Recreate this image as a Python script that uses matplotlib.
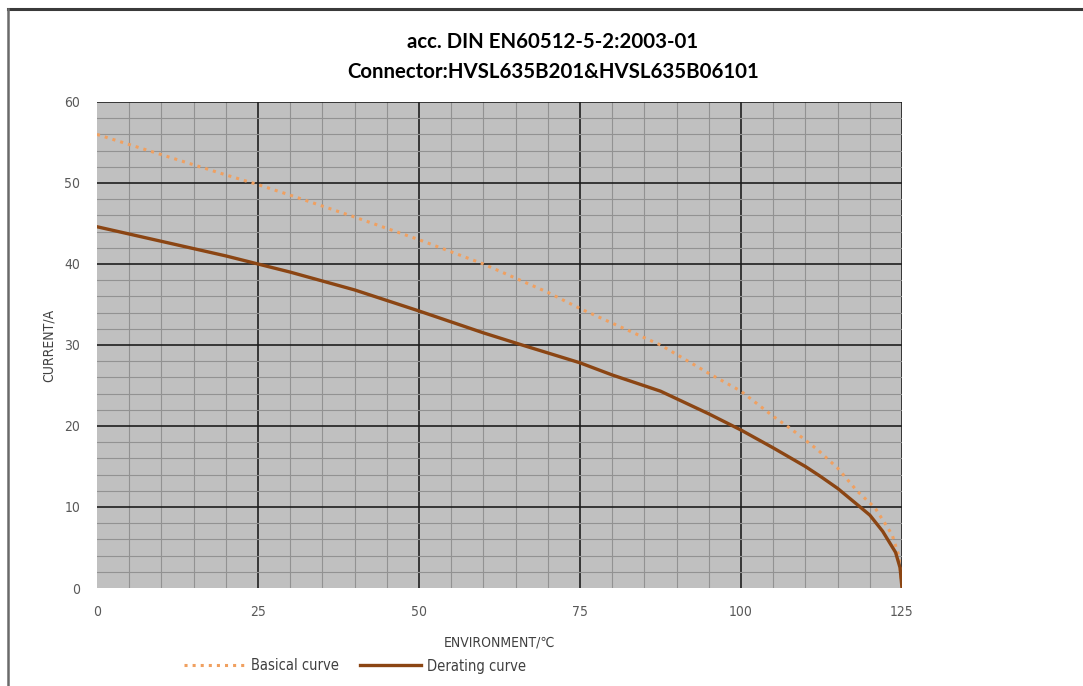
import matplotlib
matplotlib.use('Agg')
import matplotlib.pyplot as plt
from matplotlib.lines import Line2D
from matplotlib.ticker import MultipleLocator

# temperature (C) and current (A)
basic_t = [0, 10, 20, 25, 30, 40, 50, 60, 70, 75, 80, 87.5, 95, 100, 105, 108,
           112, 115, 118, 120.8, 122.5, 123.5, 124.5, 125]
basic_i = [56.0, 53.5, 51.0, 49.8, 48.5, 45.8, 43.0, 40.0, 36.5, 34.5, 32.7, 30.0,
           26.5, 24.3, 21.2, 19.5, 17.0, 14.8, 12.0, 9.9, 7.8, 6.5, 4.0, 0]

derate_t = [0, 10, 20, 25, 30, 40, 50, 60, 66, 75, 80, 87.5, 95, 100, 105, 110,
            112.3, 115, 118.5, 120, 122, 124, 124.7, 125]
derate_i = [44.6, 42.8, 41.0, 40.0, 39.0, 36.8, 34.2, 31.5, 30.0, 27.8, 26.3, 24.3,
            21.5, 19.5, 17.3, 15.0, 13.8, 12.3, 10.0, 9.0, 7.0, 4.4, 2.5, 0]

x_ticks = [0, 25, 50, 75, 100, 125]
y_ticks = [0, 10, 20, 30, 40, 50, 60]

small = dict(family='DejaVu Sans', stretch='condensed')

fig = plt.figure(figsize=(10.83, 6.86), dpi=100)
ax = fig.add_axes([97/1083, 1 - 588/686, (902-97)/1083, (588-102)/686])

ax.set_facecolor('#c0c0c0')
ax.set_xlim(0, 125)
ax.set_ylim(0, 60)
ax.set_xticks(x_ticks)
ax.set_yticks(y_ticks)
ax.xaxis.set_minor_locator(MultipleLocator(5))
ax.yaxis.set_minor_locator(MultipleLocator(2))
ax.grid(which='minor', color='#929292', linewidth=0.8)
ax.grid(which='major', color='#1e1e1e', linewidth=1.2)
ax.set_axisbelow(True)
ax.xaxis.get_gridlines()[0].set_visible(False)
ax.yaxis.get_gridlines()[0].set_visible(False)
for s in ax.spines.values():
    s.set_visible(False)
ax.tick_params(which='both', length=0, labelsize=10, labelcolor='#595959')
ax.tick_params(axis='x', pad=12)
ax.tick_params(axis='y', pad=12)
for lab in ax.get_xticklabels() + ax.get_yticklabels():
    lab.set_fontstretch('condensed')

ax.plot(basic_t, basic_i, color='#f0a060', linestyle=':', linewidth=2.2,
        label='Basical curve')
ax.plot(derate_t, derate_i, color='#8b4513', linestyle='-', linewidth=2.4,
        label='Derating curve')

ax.set_xlabel('ENVIRONMENT/℃', fontsize=10, color='#404040', labelpad=12, **small)
ax.set_ylabel('CURRENT/A', fontsize=10, color='#404040', labelpad=6, **small)

fig.text(553/1083, 1 - 42/686, 'acc. DIN EN60512-5-2:2003-01', ha='center',
         va='center', fontsize=14.7, fontweight='bold', family='Lato')
fig.text(553/1083, 1 - 72/686, 'Connector:HVSL635B201&HVSL635B06101', ha='center',
         va='center', fontsize=14.7, fontweight='bold', family='Lato')

leg = fig.legend(loc='center', bbox_to_anchor=(355/1083, 1 - 666/686), ncol=2,
                 frameon=False, handlelength=4.2, columnspacing=1.4,
                 handletextpad=0.4,
                 prop={'family': 'DejaVu Sans', 'stretch': 'condensed', 'size': 10.5})
for t in leg.get_texts():
    t.set_color('#404040')

# page border
fig.add_artist(Line2D([8/1083, 1], [1 - 9/686, 1 - 9/686], color='#3a3a3a', linewidth=2.2))
fig.add_artist(Line2D([8/1083, 8/1083], [0, 1 - 9/686], color='#6a6a6a', linewidth=1.8))

fig.savefig('out.png', dpi=100)
